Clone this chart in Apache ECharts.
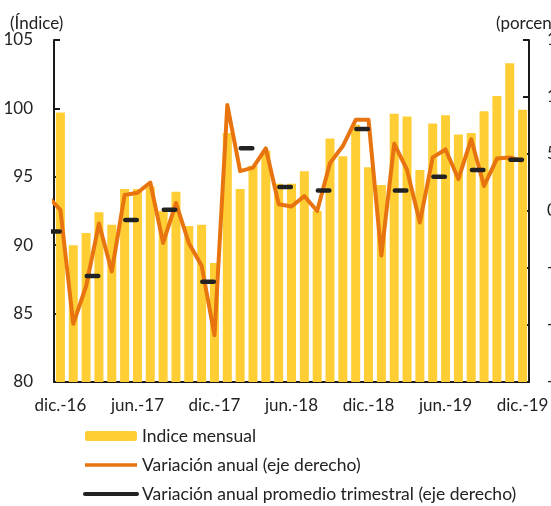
<!DOCTYPE html>
<html>
<head>
<meta charset="utf-8">
<script src="https://cdn.jsdelivr.net/npm/echarts@6/dist/echarts.min.js"></script>
<style>
html,body{margin:0;padding:0;background:#fff;}
#chart{width:551px;height:506px;}
</style>
</head>
<body>
<div id="chart"></div>
<script>
// Months shown on the axis (dic.-16 .. dic.-19)
const meses = ['dic.-16','ene.-17','feb.-17','mar.-17','abr.-17','may.-17','jun.-17','jul.-17','ago.-17','sep.-17','oct.-17','nov.-17',
  'dic.-17','ene.-18','feb.-18','mar.-18','abr.-18','may.-18','jun.-18','jul.-18','ago.-18','sep.-18','oct.-18','nov.-18',
  'dic.-18','ene.-19','feb.-19','mar.-19','abr.-19','may.-19','jun.-19','jul.-19','ago.-19','sep.-19','oct.-19','nov.-19','dic.-19'];

// Índice mensual (left axis)
const indiceMensual = [99.7, 90.0, 90.9, 92.4, 91.5, 94.1, 94.1, 94.3, 92.5, 93.9, 91.4, 91.5,
  88.7, 98.2, 94.1, 95.8, 96.9, 94.5, 94.5, 95.4, 92.5, 97.8, 96.5, 98.8,
  95.7, 94.4, 99.6, 99.4, 95.5, 98.9, 99.5, 98.1, 98.2, 99.8, 100.9, 103.3, 99.9];

// Variación anual (%), starting nov.-16 (only partly visible at the left edge)
const variacionAnual = [1.3,
  0.1, -9.9, -6.6, -1.1, -5.3, 1.4, 1.6, 2.5, -2.8, 0.7, -2.8, -4.8,
  -10.9, 9.3, 3.5, 3.8, 5.5, 0.6, 0.4, 1.3, 0.0, 4.2, 5.7, 8.0,
  8.0, -3.9, 5.9, 3.6, -1.0, 4.7, 5.4, 2.8, 6.3, 2.2, 4.6, 4.7, 4.4];
const primerMesVariacion = -1; // index of nov.-16 relative to dic.-16

// Variación anual promedio trimestral (%), IV-2016 .. IV-2019
const trimestres = ['IV-16','I-17','II-17','III-17','IV-17','I-18','II-18','III-18','IV-18','I-19','II-19','III-19','IV-19'];
const promedioTrimestral = [-1.8, -5.7, -0.8, 0.1, -6.2, 5.5, 2.1, 1.8, 7.2, 1.8, 3.0, 3.6, 4.5];

const yIzq = {min: 80, max: 105, interval: 5};
const yDer = {min: -15, max: 15, interval: 5};

const FONT = 'Lato';
const TXT = '#222';

// build line data on a hidden month-index axis aligned with the categories
const lineaAnual = variacionAnual.map((v, i) => [i + primerMesVariacion, v]);
const lineaTrim = [];
promedioTrimestral.forEach((v, j) => {
  const c = 3 * j - 0.5; // between 2nd and 3rd month of each quarter
  lineaTrim.push([c - 0.45, v], [c + 0.45, v], [c, null]);
});

const chart = echarts.init(document.getElementById('chart'), null, {renderer: 'canvas'});
chart.setOption({
  animation: false,
  backgroundColor: '#fff',
  textStyle: {fontFamily: FONT, color: TXT},
  title: [
    {text: '(Índice)', left: 5, top: 10, textStyle: {fontFamily: FONT, fontSize: 17, fontWeight: 'normal', color: TXT}},
    {text: '(porcentaje)', left: 491, top: 10, textStyle: {fontFamily: FONT, fontSize: 17, fontWeight: 'normal', color: TXT}}
  ],
  grid: {left: 54, right: 22, top: 40, bottom: 124, containLabel: false, outerBoundsMode: 'none'},
  legend: {
    orient: 'vertical', left: 83, top: 427, height: 100, padding: 0,
    itemWidth: 52, itemHeight: 10, itemGap: 11,
    textStyle: {fontFamily: FONT, fontSize: 17.5, color: TXT},
    data: [
      {name: 'Indice mensual'},
      {name: 'Variación anual (eje derecho)', itemStyle: {opacity: 0}, lineStyle: {width: 3.5}},
      {name: 'Variación anual promedio trimestral (eje derecho)', itemStyle: {opacity: 0}, lineStyle: {width: 4}}
    ]
  },
  xAxis: [
    {
      type: 'category', data: meses, boundaryGap: true,
      axisLine: {onZero: false, lineStyle: {color: '#1a1a1a', width: 2}},
      axisTick: {interval: 5, length: 6, lineStyle: {color: '#1a1a1a', width: 2}},
      axisLabel: {interval: 5, margin: 15, fontSize: 17, color: TXT, fontFamily: FONT}
    },
    {type: 'value', min: -0.5, max: meses.length - 0.5, show: false, axisLine: {onZero: false}}
  ],
  yAxis: [
    {
      type: 'value', min: yIzq.min, max: yIzq.max, interval: yIzq.interval,
      axisLine: {show: true, onZero: false, lineStyle: {color: '#1a1a1a', width: 2}},
      axisTick: {show: true, inside: true, length: 6, lineStyle: {color: '#1a1a1a', width: 2}},
      axisLabel: {margin: 21, fontSize: 17, color: TXT, fontFamily: FONT},
      splitLine: {show: false}
    },
    {
      type: 'value', position: 'right', min: yDer.min, max: yDer.max, interval: yDer.interval,
      axisLine: {show: true, onZero: false, lineStyle: {color: '#1a1a1a', width: 2}},
      axisTick: {show: true, inside: true, length: 6, lineStyle: {color: '#1a1a1a', width: 2}},
      axisLabel: {margin: 18, fontSize: 17, color: TXT, fontFamily: FONT, align: 'left'},
      splitLine: {show: false}
    }
  ],
  series: [
    {
      name: 'Indice mensual', type: 'bar', xAxisIndex: 0, yAxisIndex: 0,
      data: indiceMensual, barWidth: 9, itemStyle: {color: '#FFCD34'}, z: 2
    },
    {
      name: 'Variación anual (eje derecho)', type: 'line', xAxisIndex: 1, yAxisIndex: 1,
      data: lineaAnual, symbol: 'none', clip: true,
      lineStyle: {color: '#E8740F', width: 4, join: 'round'}, itemStyle: {color: '#E8740F'}, z: 3
    },
    {
      name: 'Variación anual promedio trimestral (eje derecho)', type: 'line', xAxisIndex: 1, yAxisIndex: 1,
      data: lineaTrim, symbol: 'none', clip: true, connectNulls: false,
      lineStyle: {color: '#222', width: 4.5, cap: 'round'}, itemStyle: {color: '#222'}, z: 4
    }
  ]
});
</script>
</body>
</html>
